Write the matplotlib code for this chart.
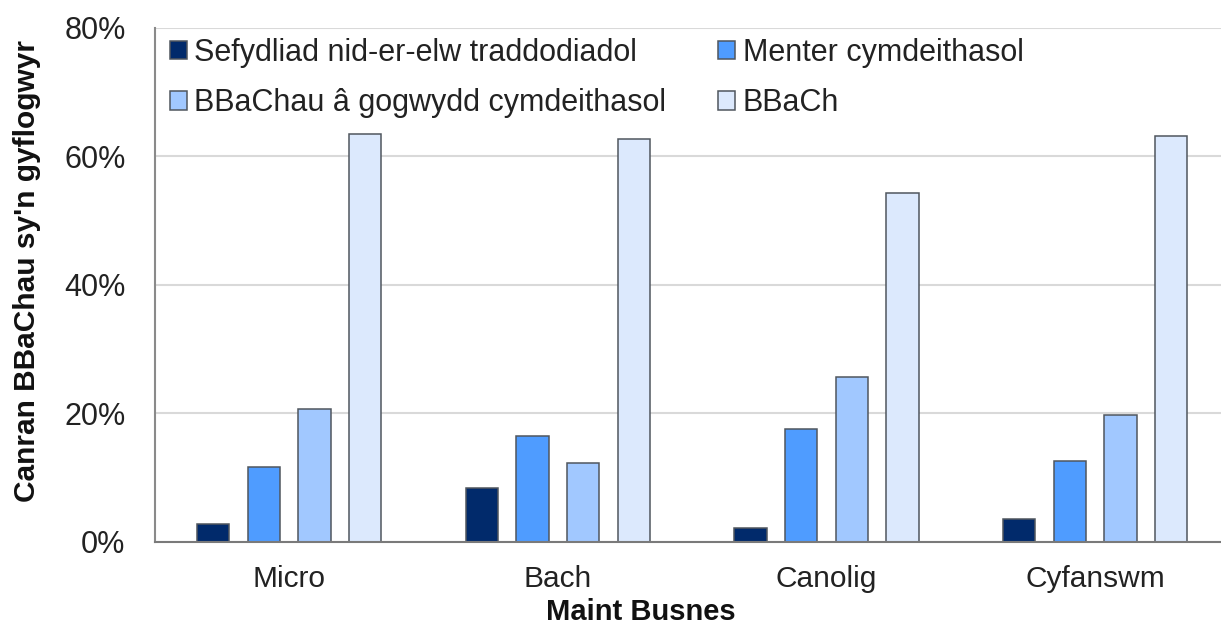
import matplotlib
matplotlib.use("Agg")
import matplotlib.pyplot as plt
import numpy as np

categories = ["Micro", "Bach", "Canolig", "Cyfanswm"]
series_names = ["Sefydliad nid-er-elw traddodiadol", "Menter cymdeithasol",
                "BBaChau â gogwydd cymdeithasol", "BBaCh"]
nonprofit = [2.8, 8.3, 2.2, 3.6]
social_enterprise = [11.7, 16.4, 17.5, 12.6]
social_smes = [20.7, 12.3, 25.7, 19.7]
smes = [63.5, 62.6, 54.3, 63.1]
yticks = [0, 20, 40, 60, 80]

colors = ["#012a6b", "#4f9cff", "#a1c8ff", "#dce9fd"]

plt.rcParams['font.family'] = ['Liberation Sans', 'DejaVu Sans']
fig = plt.figure(figsize=(12.21, 6.27), dpi=100)
W, H = 1221, 627
left, right, bottom, top = 154.7, 1229.5, 541.7, 27.7
ax = fig.add_axes([left / W, (H - bottom) / H, (right - left) / W, (bottom - top) / H])

x = np.arange(len(categories))
pitch = 0.1887
width = 0.12
data = [nonprofit, social_enterprise, social_smes, smes]
handles = []
for i, (vals, name, c) in enumerate(zip(data, series_names, colors)):
    h = ax.bar(x + (i - 1.5) * pitch, vals, width, color=c, edgecolor="#50565e",
               linewidth=1.1, label=name, zorder=3)
    handles.append(h)

ax.set_xlim(-0.5, 3.5)
ax.set_ylim(0, 80)
ax.set_yticks(yticks)
ax.set_yticklabels([f"{v}%" for v in yticks])
ax.set_xticks(x)
ax.set_xticklabels(categories)
ax.tick_params(axis='y', length=0, pad=21, labelsize=22, labelcolor="#222222")
ax.tick_params(axis='x', length=0, pad=17, labelsize=21.5, labelcolor="#222222")
ax.grid(axis='y', color="#d9d9d9", linewidth=1.5, zorder=0)
ax.set_axisbelow(True)
for s in ["top", "right"]:
    ax.spines[s].set_visible(False)
ax.spines["left"].set_color("#8a8a8a")
ax.spines["left"].set_linewidth(1.5)
ax.spines["bottom"].set_color("#7a7a7a")
ax.spines["bottom"].set_linewidth(1.5)
ax.spines["bottom"].set_zorder(4)

fig.text(27 / W, 1 - 271.5 / H, "Canran BBaChau sy'n gyflogwyr", rotation=90,
         ha="center", va="center", fontsize=21.5, fontweight="bold", color="#111111")
fig.text(641 / W, 1 - 620 / H, "Maint Busnes", ha="center", va="baseline",
         fontsize=21, fontweight="bold", color="#111111")

order = [0, 2, 1, 3]
leg = ax.legend([handles[i] for i in order], [series_names[i] for i in order],
                ncol=2, loc="upper left",
                bbox_to_anchor=((170 - left) / (right - left), (bottom - 38) / (bottom - top)),
                frameon=False, fontsize=22, handlelength=0.55, handleheight=0.55,
                handletextpad=0.25, columnspacing=1.7, labelspacing=0.66,
                borderaxespad=0, borderpad=0)
for t in leg.get_texts():
    t.set_color("#222222")

fig.savefig("out.png", dpi=100)
